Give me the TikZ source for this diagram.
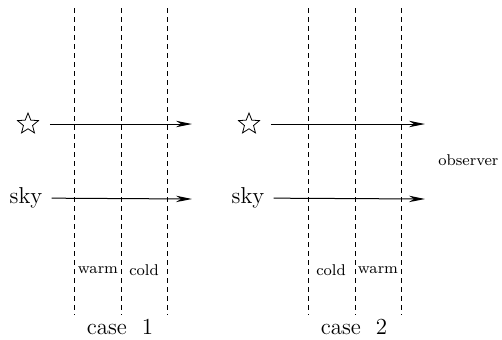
\documentclass[tikz,border=0pt]{standalone}
\usetikzlibrary{arrows.meta, shapes.geometric}

\begin{document}
\begin{tikzpicture}[x=0.5pt, y=-0.5pt,
    layer/.style = {draw, dash pattern=on 2.5pt off 2pt, line width=0.45pt},
    ray/.style = {-{Stealth[length=8pt, width=3.2pt, inset=2.5pt]}, line width=0.5pt},
    source/.style = {draw, star, star points=5, star point ratio=2.3, minimum size=11pt, inner sep=0pt, line width=0.4pt},
    big/.style = {font=\fontsize{11.5}{13}\selectfont, inner sep=0pt},
    small/.style = {font=\fontsize{7.8}{9}\selectfont, inner sep=0pt}]
    \useasboundingbox (0,0) rectangle (502,339);

    % case 1
    \node[source] (S1) at (28,124) {};
    \node[big] (K1) at (26,198) {sky};
    \coordinate (E1) at (192,123);
    \coordinate (F1) at (192,199);
    \path[ray] (S1) edge[shorten <=7.5pt] (S1 -| E1);
    \path[ray] (K1) edge[shorten <=4.5pt] (F1);

    \draw[layer] (74,8) -- (74,315);
    \draw[layer] (121,8) -- (121,315);
    \draw[layer] (167,8) -- (167,315);
    \node[small] (W1) at (98,270) {warm};
    \node[small] (C1) at (144,270) {cold};
    \node[big] (L1) at (120,327) {case\ \ 1};

    % case 2
    \node[source] (S2) at (249,124) {};
    \node[big] (K2) at (248,198) {sky};
    \coordinate (E2) at (425,123);
    \coordinate (F2) at (425,199);
    \path[ray] (S2) edge[shorten <=7.5pt] (S2 -| E2);
    \path[ray] (K2) edge[shorten <=4.5pt] (F2);

    \draw[layer] (308,8) -- (308,315);
    \draw[layer] (355,8) -- (355,315);
    \draw[layer] (401,8) -- (401,315);
    \node[small] (C2) at (331,270) {cold};
    \node[small] (W2) at (378,270) {warm};
    \node[big] (L2) at (354,327) {case\ \ 2};

    \node[small, anchor=west] (O) at (438,160) {observer};
\end{tikzpicture}
\end{document}
